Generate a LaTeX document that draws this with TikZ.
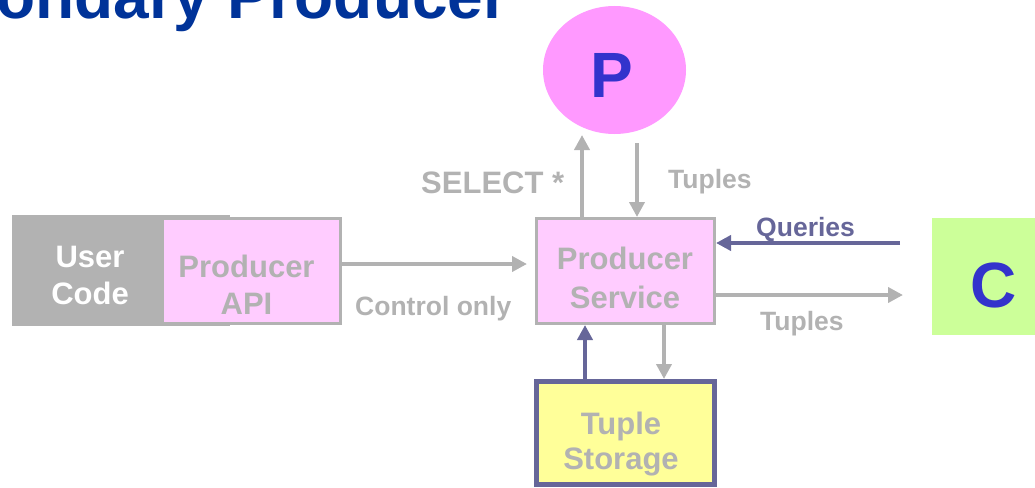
\documentclass[tikz,border=0pt]{standalone}
\usepackage{fontspec}
\setmainfont{Liberation Sans}
\usetikzlibrary{arrows.meta,shapes.geometric}

\definecolor{titleblue}{HTML}{003399}
\definecolor{letterblue}{HTML}{3333CC}
\definecolor{boxgray}{HTML}{B2B2B2}
\definecolor{lightpink}{HTML}{FFCCFF}
\definecolor{brightpink}{HTML}{FF99FF}
\definecolor{slate}{HTML}{666699}
\definecolor{lime}{HTML}{CCFF99}
\definecolor{paleyellow}{HTML}{FFFF99}

\begin{document}
\begin{tikzpicture}[x=1pt,y=-1pt,
  labeltext/.style={font=\bfseries\fontsize{26.5}{32}\selectfont, inner sep=0pt, anchor=base west},
  boxtext/.style={font=\bfseries\fontsize{31}{#1}\selectfont, align=center, inner sep=0pt, text depth=0pt},
  pinkbox/.style={draw=boxgray, line width=3pt, fill=lightpink, inner sep=0pt, minimum width=178pt, minimum height=105pt},
  grayarrow/.style={draw=boxgray, line width=4pt, -{Triangle[length=15pt,width=15pt]}},
  slatearrow/.style={draw=slate, line width=4.5pt, -{Triangle[length=15pt,width=15pt]}},
]
\useasboundingbox (0,0) rectangle (1035,487);

% heading, cut by the page edge
\node[anchor=base west, inner sep=0pt, text=titleblue,
      font=\bfseries\fontsize{64}{70}\selectfont] (title) at (-4,18.5) {ondary Producer};

% remote producer and consumer
\node[ellipse, fill=brightpink, minimum width=143pt, minimum height=128pt, inner sep=0pt] (prod) at (614.5,70) {};
\node[text=letterblue, font=\bfseries\fontsize{64}{64}\selectfont, inner sep=0pt] (prodtext) at (612,75) {P};

\node[fill=lime, minimum width=110pt, minimum height=117pt, inner sep=0pt, anchor=north west] (cons) at (932,218) {};
\node[text=letterblue, font=\bfseries\fontsize{64}{64}\selectfont, inner sep=0pt] (constext) at (994,285) {C};

% user code with the producer API
\node[fill=boxgray, minimum width=218pt, minimum height=111pt, inner sep=0pt, anchor=north west] (user) at (12,215) {};
\node[boxtext=37pt, text=white] (usertext) at (90,275) {User\\Code};
\node[pinkbox] (api) at (251.5,271) {};
\node[boxtext=37pt, text=boxgray] (apitext) at (246.5,285) {Producer\\API};

% producer service and tuple storage
\node[pinkbox] (serv) at (625.5,271) {};
\node[boxtext=39pt, text=boxgray] (servtext) at (625,277.5) {Producer\\Service};

\node[draw=slate, line width=5pt, fill=paleyellow, inner sep=0pt,
      minimum width=178pt, minimum height=103pt] (store) at (625.5,433) {};
\node[boxtext=35.5pt, text=boxgray] (storetext) at (621,441) {Tuple\\Storage};

% connector end points
\coordinate (ctrlend) at (527,264);
\coordinate (selx) at (582,0);
\coordinate (selend) at (582,135);
\coordinate (tupstart) at (637,143);
\coordinate (qstart) at (900,243);
\coordinate (outend) at (903,295);
\coordinate (downx) at (664,0);
\coordinate (upx) at (585,0);

% connectors
\draw[grayarrow] (ctrlend -| api.east) -- (ctrlend);
\draw[grayarrow] (selx |- serv.north) -- (selend);
\draw[grayarrow] (tupstart) -- (tupstart |- serv.north);
\draw[slatearrow] (qstart) -- (qstart -| serv.east);
\draw[grayarrow] (outend -| serv.east) -- (outend);
\draw[grayarrow] (downx |- serv.south) -- (downx |- store.north);
\draw[slatearrow] (upx |- store.north) -- (upx |- serv.south);

% connector labels
\node[labeltext, text=boxgray, font=\bfseries\fontsize{31}{32}\selectfont] (sellabel) at (421,193) {SELECT *};
\node[labeltext, text=boxgray] (tuplabel) at (668,188) {Tuples};
\node[labeltext, text=slate] (qlabel) at (756,236) {Queries};
\node[labeltext, text=boxgray] (outlabel) at (760,330) {Tuples};
\node[labeltext, text=boxgray] (ctrllabel) at (355,315) {Control only};
\end{tikzpicture}
\end{document}
